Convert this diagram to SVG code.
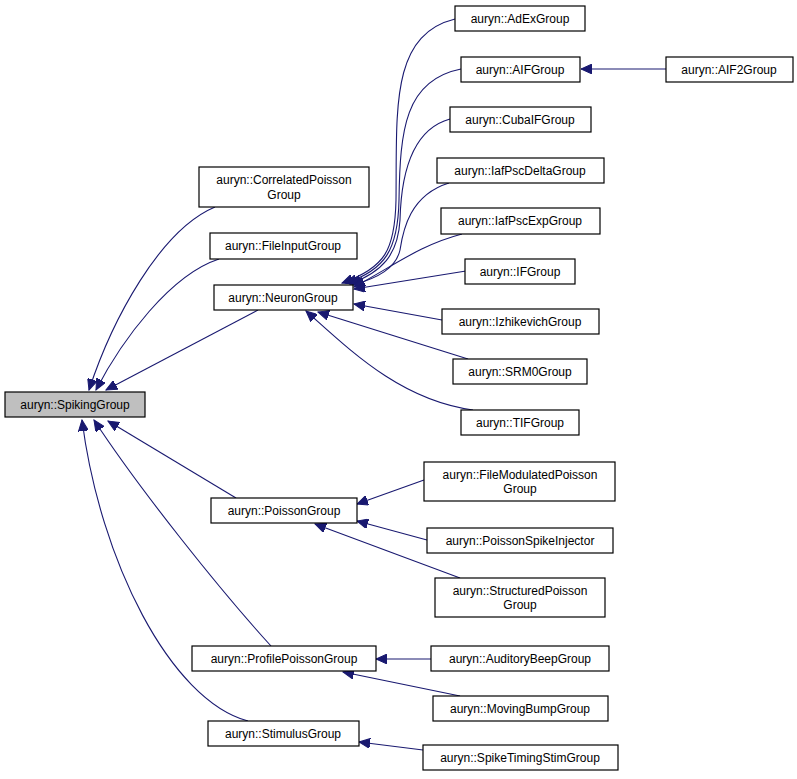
<svg xmlns="http://www.w3.org/2000/svg" width="797" height="779" viewBox="0 0 797 779">
<style>
.n rect{fill:#fff;stroke:#000;stroke-width:1.2}
.n.g rect{fill:#bfbfbf}
.n text{font-family:"Liberation Sans",Arial,sans-serif;font-size:12px;text-anchor:middle;fill:#000}
.e path{fill:none;stroke:#191970;stroke-width:1.1;marker-end:url(#a)}
</style>
<defs><marker id="a" markerUnits="userSpaceOnUse" markerWidth="12" markerHeight="10" refX="11" refY="5" orient="auto"><path d="M0,0 L11,5 L0,10 Z" fill="#191970" stroke="#191970"/></marker></defs>
<rect width="797" height="779" fill="#fff"/>
<g class="e">
<path d="M215,207 C160,230 112,320 89,390"/>
<path d="M219,259 C170,275 122,340 96,390"/>
<path d="M258,310 L106,390"/>
<path d="M236,498 L108,421"/>
<path d="M271,646 C220,590 140,490 94,420"/>
<path d="M248,721 C170,700 100,560 82,420"/>
<path d="M455,19 C390,35 397,110 396,200 C395,250 385,268 342,283"/>
<path d="M461,69 C405,80 400,130 399,200 C398,250 385,270 346,283"/>
<path d="M450,119 C410,130 401,180 400,220 C398,255 382,272 350,284"/>
<path d="M449,183 C410,195 403,230 400,250 C396,268 378,278 353,285"/>
<path d="M462,234 C420,245 395,265 354,287"/>
<path d="M466,271 L354,289"/>
<path d="M442,320 L354,304"/>
<path d="M468,359 L318,312"/>
<path d="M473,410 C400,400 350,350 306,311"/>
<path d="M666,69 L581,69"/>
<path d="M424,480 L357,504"/>
<path d="M427,540 L357,521"/>
<path d="M460,578 L315,524"/>
<path d="M431,659 L376,659"/>
<path d="M460,696 L343,672"/>
<path d="M423,750 L359,742"/>
</g>
<g id="spiking" class="n g"><rect x="5" y="392" width="140" height="25"/><text x="75" y="409">auryn::SpikingGroup</text></g>
<g id="correlated" class="n"><rect x="199" y="167" width="170" height="40"/><text x="284" y="184">auryn::CorrelatedPoisson</text><text x="284" y="199">Group</text></g>
<g id="fileinput" class="n"><rect x="210" y="233" width="147" height="26"/><text x="283" y="250">auryn::FileInputGroup</text></g>
<g id="neuron" class="n"><rect x="214" y="285" width="139" height="25"/><text x="283" y="302">auryn::NeuronGroup</text></g>
<g id="poisson" class="n"><rect x="211" y="498" width="146" height="25"/><text x="284" y="515">auryn::PoissonGroup</text></g>
<g id="profile" class="n"><rect x="192" y="646" width="184" height="25"/><text x="284" y="663">auryn::ProfilePoissonGroup</text></g>
<g id="stimulus" class="n"><rect x="208" y="721" width="151" height="25"/><text x="283" y="738">auryn::StimulusGroup</text></g>
<g id="adex" class="n"><rect x="455" y="6" width="130" height="25"/><text x="520" y="23">auryn::AdExGroup</text></g>
<g id="aif" class="n"><rect x="461" y="57" width="119" height="25"/><text x="520" y="74">auryn::AIFGroup</text></g>
<g id="aif2" class="n"><rect x="666" y="57" width="127" height="25"/><text x="729" y="74">auryn::AIF2Group</text></g>
<g id="cubaif" class="n"><rect x="450" y="107" width="141" height="25"/><text x="520" y="124">auryn::CubaIFGroup</text></g>
<g id="iafdelta" class="n"><rect x="437" y="158" width="167" height="25"/><text x="520" y="175">auryn::IafPscDeltaGroup</text></g>
<g id="iafexp" class="n"><rect x="441" y="208" width="159" height="26"/><text x="520" y="225">auryn::IafPscExpGroup</text></g>
<g id="if" class="n"><rect x="465" y="259" width="110" height="25"/><text x="520" y="276">auryn::IFGroup</text></g>
<g id="izh" class="n"><rect x="442" y="309" width="157" height="25"/><text x="520" y="326">auryn::IzhikevichGroup</text></g>
<g id="srm0" class="n"><rect x="453" y="359" width="134" height="25"/><text x="520" y="376">auryn::SRM0Group</text></g>
<g id="tif" class="n"><rect x="461" y="410" width="118" height="25"/><text x="520" y="427">auryn::TIFGroup</text></g>
<g id="filemod" class="n"><rect x="424" y="462" width="191" height="39"/><text x="520" y="479">auryn::FileModulatedPoisson</text><text x="520" y="493">Group</text></g>
<g id="psi" class="n"><rect x="427" y="528" width="186" height="25"/><text x="520" y="545">auryn::PoissonSpikeInjector</text></g>
<g id="structured" class="n"><rect x="435" y="578" width="170" height="39"/><text x="520" y="595">auryn::StructuredPoisson</text><text x="520" y="609">Group</text></g>
<g id="auditory" class="n"><rect x="431" y="646" width="178" height="25"/><text x="520" y="663">auryn::AuditoryBeepGroup</text></g>
<g id="movingbump" class="n"><rect x="433" y="696" width="175" height="25"/><text x="520" y="713">auryn::MovingBumpGroup</text></g>
<g id="spiketiming" class="n"><rect x="423" y="745" width="195" height="25"/><text x="520" y="762">auryn::SpikeTimingStimGroup</text></g>
</svg>
